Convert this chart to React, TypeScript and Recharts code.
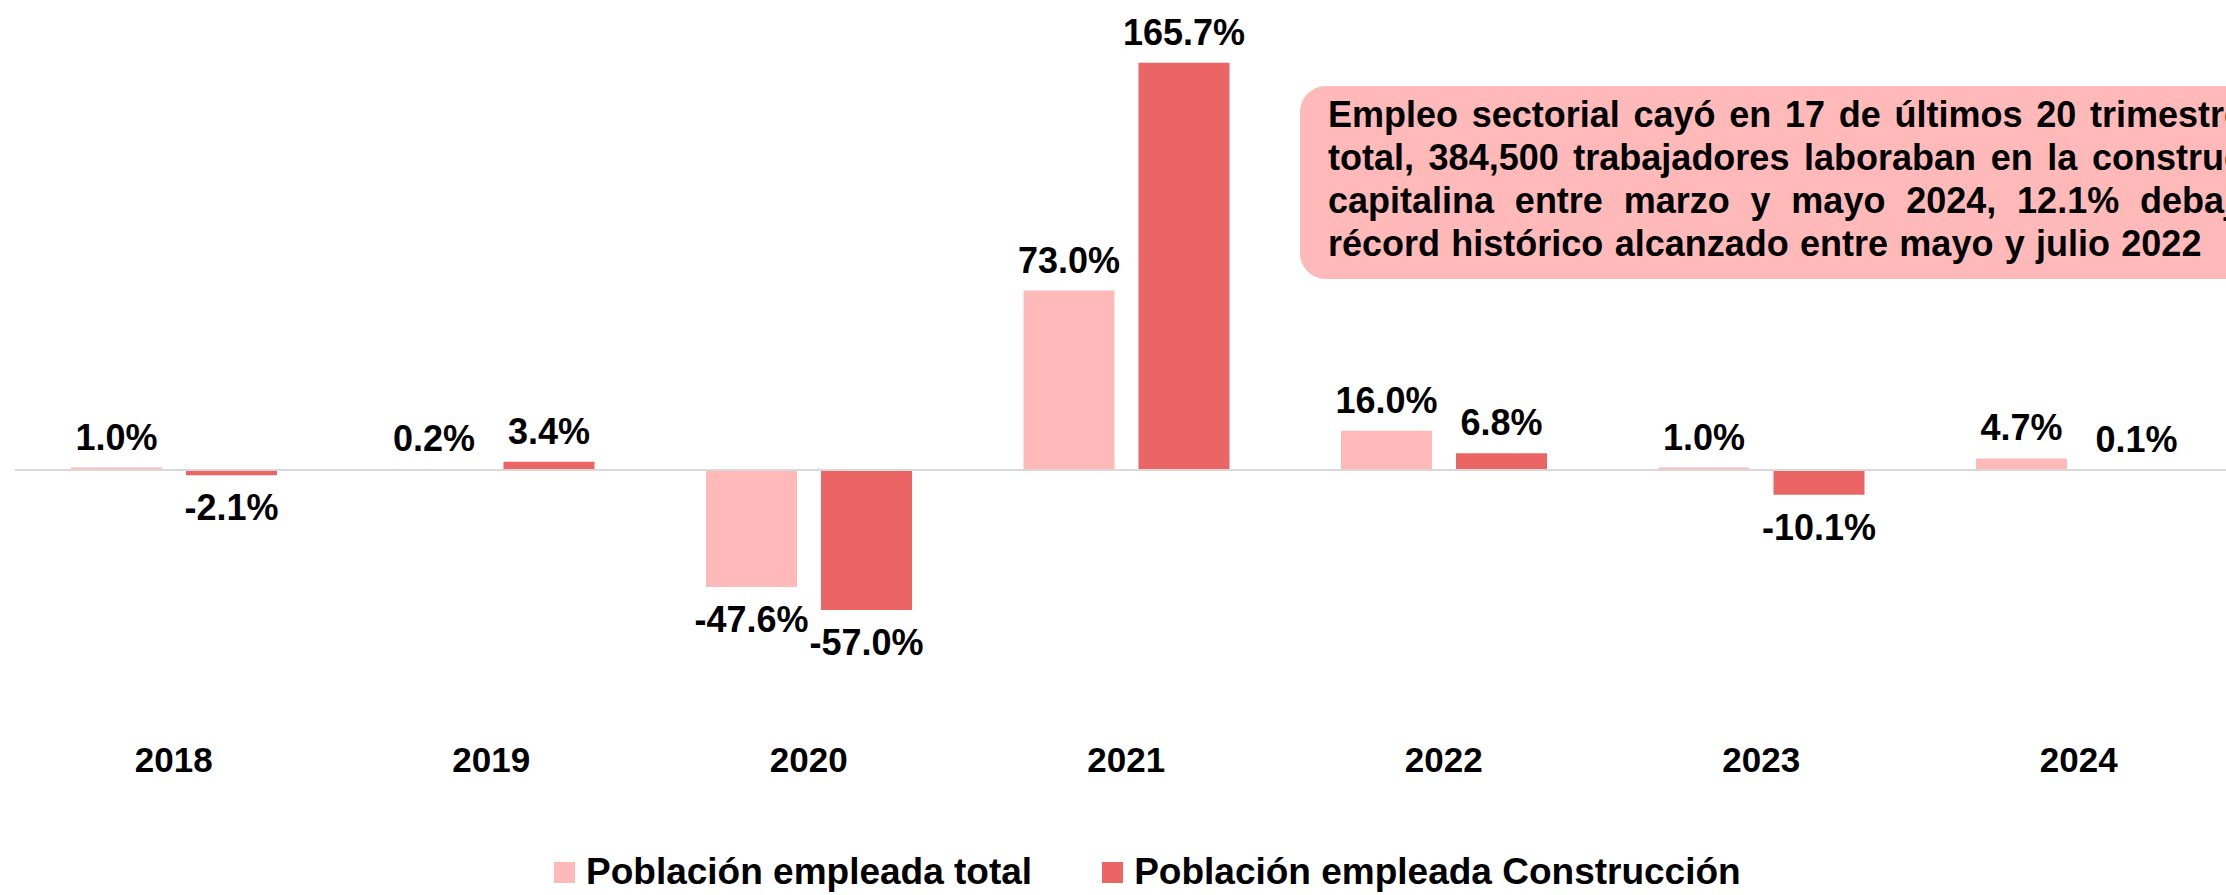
import { Bar, BarChart, LabelList, Legend, ReferenceLine, XAxis, YAxis } from "recharts";

const years = ["2018", "2019", "2020", "2021", "2022", "2023", "2024"];
const totalEmpleo = [1.0, 0.2, -47.6, 73.0, 16.0, 1.0, 4.7];
const construccion = [-2.1, 3.4, -57.0, 165.7, 6.8, -10.1, 0.1];

const seriesNames = ["Población empleada total", "Población empleada Construcción"];

// annotation box, one entry per printed line (text is justified in the original)
const noteLines = [
  "Empleo sectorial cayó en 17 de últimos 20 trimestres. En",
  "total, 384,500 trabajadores laboraban en la construcción",
  "capitalina entre marzo y mayo 2024, 12.1% debajo del",
  "récord histórico alcanzado entre mayo y julio 2022",
];
const noteWordSpacing = [3.7, 4.6, 10.8, 1.3];

const data = years.map((year, i) => ({
  year,
  total: totalEmpleo[i],
  construccion: construccion[i],
}));

const FONT = '"Liberation Sans", Arial, Helvetica, sans-serif';
const LIGHT = "#FFB9B9";
const DARK = "#EC6565";

function ValueLabel(props: any) {
  const box = props.viewBox ?? props;
  const { x, y, width, height } = box;
  const value = Number(props.value);
  const top = Math.min(y, y + height);
  const bottom = Math.max(y, y + height);
  const ty = value >= 0 ? top - 18 : bottom + 45;
  return (
    <text
      x={x + width / 2}
      y={ty}
      textAnchor="middle"
      fontFamily={FONT}
      fontWeight={700}
      fontSize={36}
      fill="#000"
    >
      {value.toFixed(1)}%
    </text>
  );
}

function renderLegend(props: any) {
  const payload = [...(props.payload ?? [])].sort(
    (a: any, b: any) => seriesNames.indexOf(a.value) - seriesNames.indexOf(b.value)
  );
  return (
    <div
      style={{
        display: "flex",
        alignItems: "center",
        fontFamily: FONT,
        fontWeight: 700,
        fontSize: 37,
        color: "#000",
        whiteSpace: "nowrap",
      }}
    >
      {payload.map((entry: any, i: number) => (
        <div
          key={entry.value}
          style={{ display: "flex", alignItems: "center", marginRight: i === 0 ? 70 : 0 }}
        >
          <span
            style={{
              display: "inline-block",
              width: 21,
              height: 21,
              background: entry.color,
              marginRight: 11,
            }}
          />
          <span>{entry.value}</span>
        </div>
      ))}
    </div>
  );
}

export default function App() {
  return (
    <div
      style={{
        position: "absolute",
        left: 0,
        top: 0,
        width: 2226,
        height: 895,
        overflow: "hidden",
        background: "#fff",
      }}
    >
      <div style={{ position: "relative", width: 2252, height: 895 }}>
        <BarChart
          width={2252}
          height={895}
          data={data}
          margin={{ top: 27.7, right: 14.5, bottom: 149.3, left: 15 }}
          barSize={91}
          barGap={24}
        >
          <XAxis
            dataKey="year"
            height={30}
            axisLine={false}
            tickLine={false}
            tickSize={0}
            tickMargin={31}
            interval={0}
            tick={{ fontSize: 35, fontWeight: 700, fill: "#000", fontFamily: FONT }}
          />
          <YAxis hide domain={[-100, 180]} allowDataOverflow tickCount={15} />
          <ReferenceLine y={0} stroke="#D9D9D9" strokeWidth={2} />
          <Legend
            layout="horizontal"
            verticalAlign="middle"
            align="center"
            wrapperStyle={{ left: 554, top: 851, width: 1400, height: 44 }}
            content={renderLegend}
          />
          <Bar dataKey="total" name={seriesNames[0]} fill={LIGHT} isAnimationActive={false}>
            <LabelList dataKey="total" content={ValueLabel} />
          </Bar>
          <Bar dataKey="construccion" name={seriesNames[1]} fill={DARK} isAnimationActive={false}>
            <LabelList dataKey="construccion" content={ValueLabel} />
          </Bar>
        </BarChart>
        <svg
          width={2252}
          height={895}
          style={{ position: "absolute", left: 0, top: 0, pointerEvents: "none" }}
        >
          <rect x={1300} y={86} width={1000} height={193} rx={26} ry={26} fill={LIGHT} />
          {noteLines.map((line, i) => (
            <text
              key={i}
              x={1328}
              y={127 + i * 43}
              fontFamily={FONT}
              fontWeight={700}
              fontSize={36}
              fill="#000"
              style={{ wordSpacing: noteWordSpacing[i] }}
            >
              {line}
            </text>
          ))}
        </svg>
      </div>
    </div>
  );
}
